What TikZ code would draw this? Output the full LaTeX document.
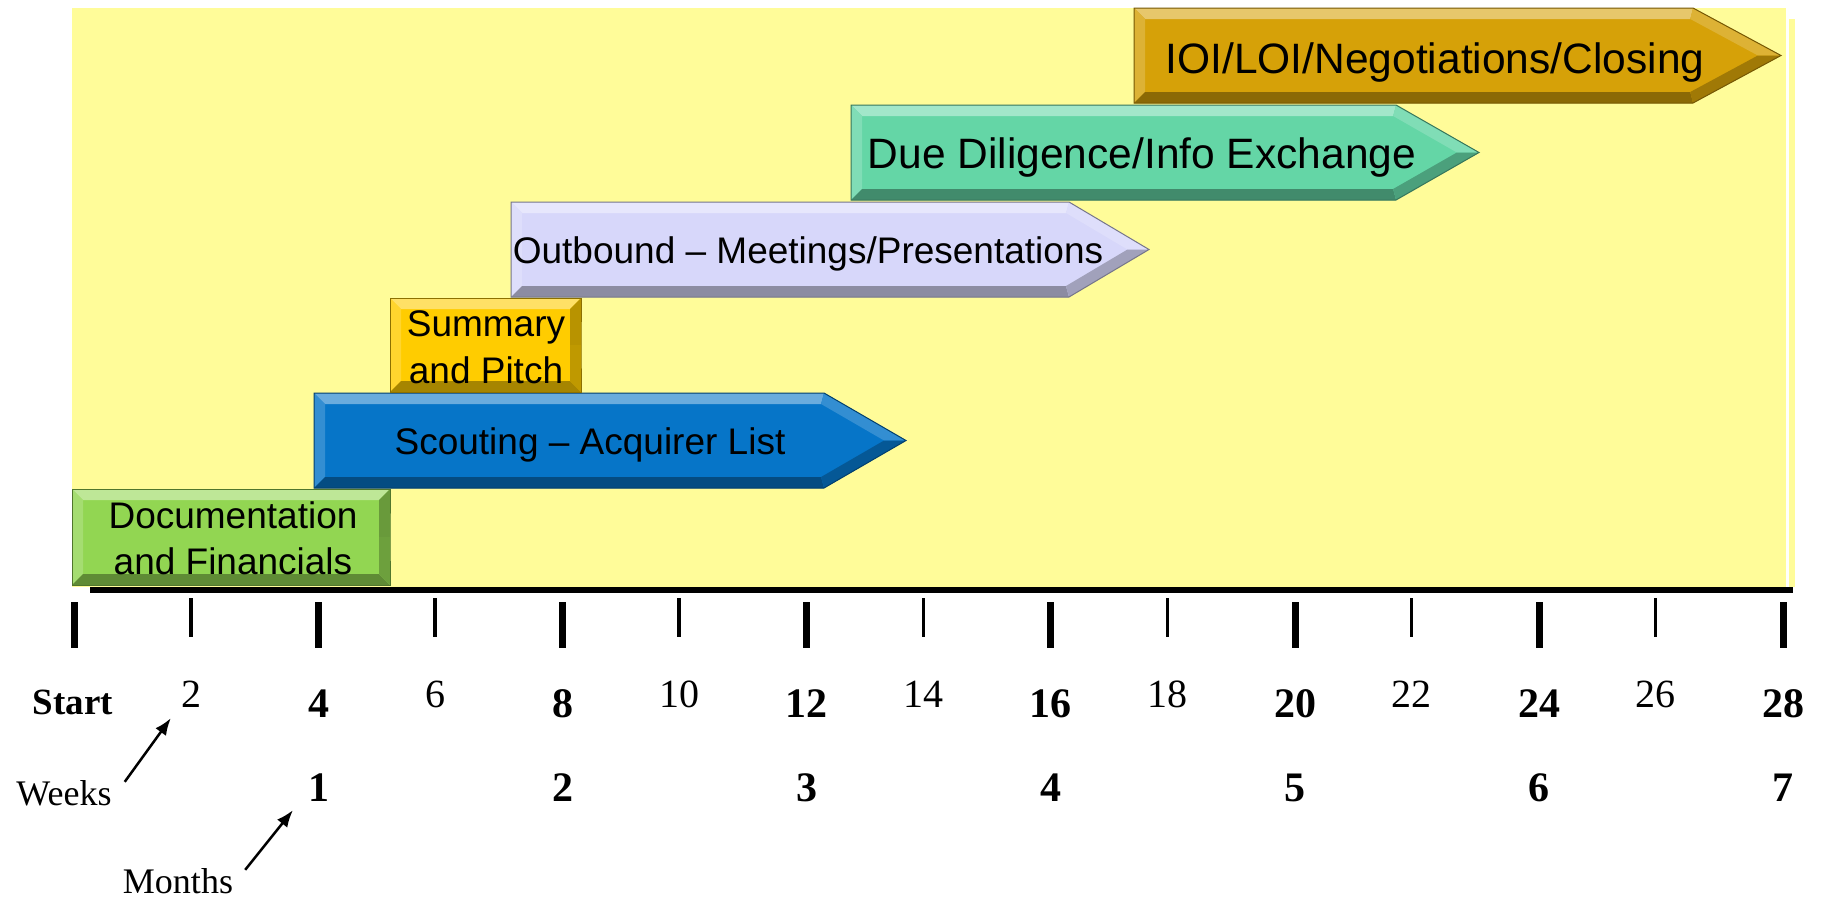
\documentclass[tikz,border=0pt]{standalone}
\usepackage{fontspec}
\setmainfont{Liberation Serif}
\newfontfamily\sansf{Liberation Sans}
\usetikzlibrary{arrows.meta}
\definecolor{bgyel}{RGB}{255,252,153}
\definecolor{cgreen}{RGB}{146,214,82}
\definecolor{cblue}{RGB}{6,117,200}
\definecolor{csum}{RGB}{255,204,0}
\definecolor{clav}{RGB}{215,215,250}
\definecolor{cmint}{RGB}{100,214,166}
\definecolor{cioi}{RGB}{214,161,8}
% bevelled bar: #1 xa, #2 ya, #3 x body end, #4 x tip, #5 yb, #6 colour, #7 upper-right bevel colour
\newcommand{\bevbox}[7]{%
  \pgfmathsetmacro{\bvym}{(#2+#5)/2}%
  \pgfmathsetmacro{\bvH}{\bvym-#2}%
  \pgfmathsetmacro{\bvL}{#4-#3}%
  \pgfmathsetmacro{\bvR}{sqrt(\bvH*\bvH+\bvL*\bvL)}%
  \pgfmathsetmacro{\bvw}{11}%
  \pgfmathsetmacro{\bvixb}{#3-\bvw*\bvH/\bvR+\bvw*\bvL*(1-\bvL/\bvR)/\bvH}%
  \pgfmathsetmacro{\bvixt}{#4-\bvw*\bvR/\bvH}%
  \pgfmathsetmacro{\bvixa}{#1+\bvw}%
  \pgfmathsetmacro{\bviya}{#2+\bvw}%
  \pgfmathsetmacro{\bviyb}{#5-\bvw}%
  \fill[#6] (#1,#2) -- (#3,#2) -- (#4,\bvym) -- (#3,#5) -- (#1,#5) -- cycle;
  \fill[#6!60!white] (#1,#2) -- (#3,#2) -- (\bvixb,\bviya) -- (\bvixa,\bviya) -- cycle;
  \fill[#6!82!white] (#1,#2) -- (\bvixa,\bviya) -- (\bvixa,\bviyb) -- (#1,#5) -- cycle;
  \fill[#6!65!black] (#1,#5) -- (\bvixa,\bviyb) -- (\bvixb,\bviyb) -- (#3,#5) -- cycle;
  \fill[#7] (#3,#2) -- (#4,\bvym) -- (\bvixt,\bvym) -- (\bvixb,\bviya) -- cycle;
  \fill[#6!75!black] (#4,\bvym) -- (#3,#5) -- (\bvixb,\bviyb) -- (\bvixt,\bvym) -- cycle;
  \draw[#6!55!black, line width=1] (#1,#2) -- (#3,#2) -- (#4,\bvym) -- (#3,#5) -- (#1,#5) -- cycle;
}
\tikzset{
  bartxt/.style={font=\sansf\fontsize{37}{42}\selectfont, inner sep=0, anchor=base, text=black},
  bigtxt/.style={bartxt, font=\sansf\fontsize{42.5}{48}\selectfont},
  wk/.style={font=\fontsize{40}{44}\selectfont, inner sep=0, anchor=base},
  wkb/.style={font=\bfseries\fontsize{42}{46}\selectfont, inner sep=0, anchor=base},
  lbl/.style={font=\fontsize{36}{40}\selectfont, inner sep=0, anchor=base},
  majortick/.style={line width=7},
  minortick/.style={line width=3.5},
  arr/.style={line width=2.5, -{Latex[length=17,width=13]}}
}
\begin{document}
\begin{tikzpicture}[x=1pt,y=-1pt]
\useasboundingbox (0,0) rectangle (1822,900);
\fill[white] (0,0) rectangle (1822,900);
% background panel
\fill[bgyel] (72,8) rectangle (1786,587);
\fill[bgyel] (1789,19) rectangle (1795,587);
% bars
\bevbox{72}{489}{390}{390}{585}{cgreen}{cgreen!72!black}
\bevbox{314}{393}{824}{906}{488}{cblue}{cblue!82!white}
\bevbox{390}{298}{581}{581}{392}{csum}{csum!72!black}
\bevbox{511}{202}{1069}{1149}{297}{clav}{clav!82!white}
\bevbox{851}{105}{1396}{1479}{200}{cmint}{cmint!82!white}
\bevbox{1134}{8}{1693}{1781}{103}{cioi}{cioi!82!white}
% bar texts
\node[bartxt] (doc1) at (233,528) {Documentation};
\node[bartxt] (doc2) at (233,574) {and Financials};
\node[bartxt] (sum1) at (486,336) {Summary};
\node[bartxt] (sum2) at (486,383) {and Pitch};
\node[bartxt] (sco) at (590,454) {Scouting – Acquirer List};
\node[bartxt] (out) at (808,263) {Outbound – Meetings/Presentations};
\node[bigtxt] (dd) at (1142,168) {Due Diligence/Info Exchange};
\node[bigtxt] (ioi) at (1435,73) {IOI/LOI/Negotiations/Closing};
% axis
\draw[line width=6] (90,590) -- (1793,590);
\draw[majortick] (74.5,602) -- (74.5,648);
\node[wkb, font=\bfseries\fontsize{37}{40}\selectfont] (start) at (73,714) {Start};
\foreach \k/\w in {1/4,2/8,3/12,4/16,5/20,6/24,7/28} {
  \pgfmathsetmacro\tx{74.5+244.1*\k}
  \draw[majortick] (\tx,602) -- (\tx,648);
  \node[wkb] (w\w) at (\tx,717) {\w};
  \node[wkb] (m\k) at (\tx,801) {\k};
}
\foreach \k/\w in {0/2,1/6,2/10,3/14,4/18,5/22,6/26} {
  \pgfmathsetmacro\tx{191+244.1*\k}
  \draw[minortick] (\tx,598) -- (\tx,637);
  \node[wk] (w\w) at (\tx,707) {\w};
}
\node[lbl] (weeks) at (64,805) {Weeks};
\node[lbl] (months) at (178,893) {Months};
\draw[arr] ([shift={(13,2)}]weeks.north east) -- ([shift={(-10,11)}]w2.south west);
\draw[arr] ([shift={(12,2)}]months.north east) -- ([shift={(-15,9)}]m1.south west);
\end{tikzpicture}
\end{document}
